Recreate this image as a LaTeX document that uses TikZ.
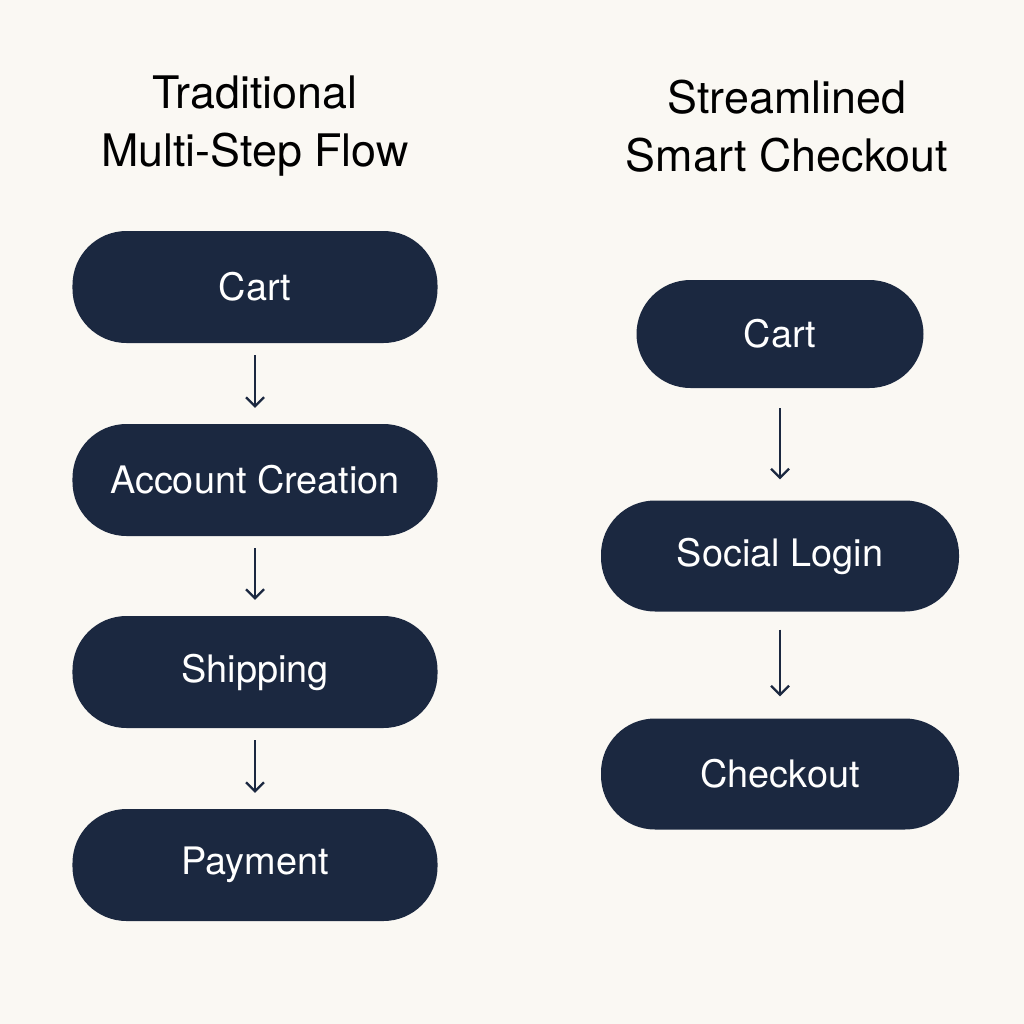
\documentclass[tikz,border=0pt]{standalone}
\usepackage{fontspec}
\setmainfont{TeX Gyre Heros}
\usetikzlibrary{arrows.meta}
\definecolor{bg}{HTML}{FAF8F3}
\definecolor{navy}{HTML}{1B2840}
\begin{document}
\begin{tikzpicture}[x=1bp,y=-1bp,
  pill/.style={fill=navy,rounded corners=54bp,text=white,font=\fontsize{38}{40}\selectfont,inner sep=0pt,align=center},
  title/.style={font=\fontsize{45}{58}\selectfont,align=center,text=black},
  flow/.style={draw=navy,line width=2.2bp,-{Straight Barb[length=9bp,width=18bp,line width=2.2bp]}}]
\fill[bg] (0,0) rectangle (1024,1024);
\useasboundingbox (0,0) rectangle (1024,1024);
\node[title] (t1) at (255,126) {Traditional\\Multi-Step Flow};
\node[title] (t2) at (787,126) {Streamlined\\Smart Checkout};
\node[pill,minimum width=365bp,minimum height=112bp] (a1) at (255,287) {Cart};
\node[pill,minimum width=365bp,minimum height=112bp] (a2) at (255,480) {Account Creation};
\node[pill,minimum width=365bp,minimum height=112bp] (a3) at (255,672) {Shipping};
\node[pill,minimum width=365bp,minimum height=112bp] (a4) at (255,865) {Payment};
\node[pill,minimum width=287bp,minimum height=108bp] (b1) at (780,334) {Cart};
\node[pill,minimum width=358bp,minimum height=111bp] (b2) at (780,556) {Social Login};
\node[pill,minimum width=358bp,minimum height=111bp] (b3) at (780,774) {Checkout};
\draw[flow,shorten <=12bp,shorten >=16bp] (a1) -- (a2);
\draw[flow,shorten <=12bp,shorten >=16bp] (a2) -- (a3);
\draw[flow,shorten <=12bp,shorten >=16bp] (a3) -- (a4);
\draw[flow,shorten <=20bp,shorten >=21bp] (b1) -- (b2);
\draw[flow,shorten <=18bp,shorten >=22bp] (b2) -- (b3);
\end{tikzpicture}
\end{document}
